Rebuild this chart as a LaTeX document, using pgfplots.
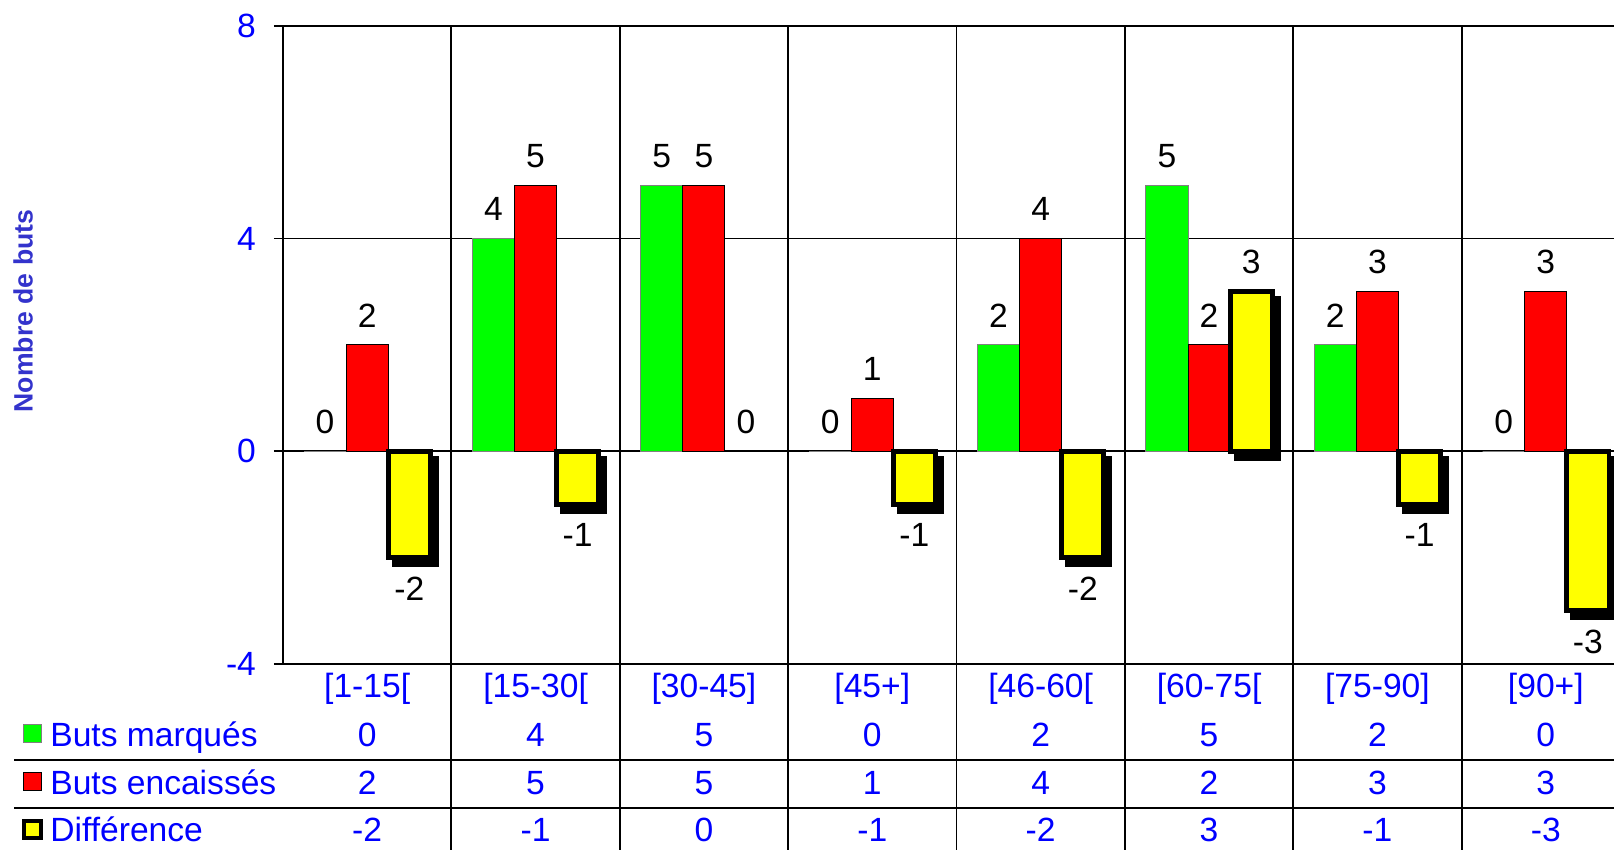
\documentclass[border=0pt]{standalone}
\usepackage{fontspec}
\setmainfont{Liberation Sans}
\usepackage{pgfplots}
\usepackage{pgfplotstable}
\pgfplotsset{compat=1.18}
\usetikzlibrary{shadows}
\definecolor{xlgreen}{RGB}{0,255,0}
\definecolor{xlred}{RGB}{255,0,0}
\definecolor{xlyellow}{RGB}{255,255,0}
\definecolor{xlblue}{RGB}{0,0,255}
\definecolor{titleblue}{RGB}{51,51,204}
\definecolor{xlgray}{RGB}{128,128,128}

\pgfplotstableread{
x marq enc diff
0 0 2 -2
1 4 5 -1
2 5 5 0
3 0 1 -1
4 2 4 -2
5 5 2 3
6 2 3 -1
7 0 3 -3
}\data

\begin{document}
\begin{tikzpicture}[font=\fontsize{16.8pt}{20pt}\selectfont]
\useasboundingbox (-141.5pt,-93pt) rectangle (665.5pt,332pt);
\clip (-141.5pt,-93pt) rectangle (665.5pt,332pt);
\begin{axis}[
  at={(0,0)}, anchor=south west,
  scale only axis, width=673.5pt, height=319.15pt,
  xmin=-0.5, xmax=7.5, ymin=-4, ymax=8,
  xtick={0,...,7},
  xticklabels={{[1-15[},{[15-30[},{[30-45]},{[45+]},{[46-60[},{[60-75[},{[75-90]},{[90+]}},
  xtick align=inside,
  xtick style={draw=none},
  xticklabel style={anchor=center, yshift=-12.25pt, text=xlblue},
  extra x ticks={0.5,1.5,2.5,3.5,4.5,5.5,6.5},
  extra x tick labels={},
  extra x tick style={grid=major, xtick style={draw=none}},
  ytick={-4,0,4,8}, ymajorgrids, ytick pos=left, ytick align=outside,
  major tick length=4.5pt,
  yticklabel style={text=xlblue, xshift=-5.5pt},
  /pgf/number format/assume math mode=true,
  axis line style={black, line width=0.9pt},
  major grid style={black, line width=0.9pt},
  ytick style={black, line width=0.9pt},
  ylabel={Nombre de buts},
  ylabel style={at={(axis description cs:-0.193,0.553)}, anchor=center,
    font=\fontsize{13.3pt}{16pt}\selectfont\bfseries, text=titleblue},
  clip=false,
]
% bars
\addplot[ybar, bar width=0.25, bar shift=-0.25, fill=xlgreen, draw=xlgray, line width=0.5pt]
  table[x=x, y=marq]{\data};
\addplot[ybar, bar width=0.25, bar shift=0, fill=xlred, draw=black, line width=0.5pt]
  table[x=x, y=enc]{\data};
\addplot[ybar, bar width=0.25, bar shift=0.25, fill=xlyellow, draw=black, line width=2.4pt,
  drop shadow={shadow xshift=3pt, shadow yshift=-3.5pt, opacity=1, fill=black},
  y filter/.expression={y==0 ? nan : y}]
  table[x=x, y=diff]{\data};

% value labels
\addplot[draw=none, mark=none, point meta=explicit symbolic, nodes near coords,
  visualization depends on={y \as \rawy},
  every node near coord/.append style={anchor=center, text=black, yshift={(\rawy<0 ? -14.75 : 14.75)}}]
  table[x expr=\thisrow{x}-0.25, y=marq, meta=marq]{\data};
\addplot[draw=none, mark=none, point meta=explicit symbolic, nodes near coords,
  visualization depends on={y \as \rawy},
  every node near coord/.append style={anchor=center, text=black, yshift={(\rawy<0 ? -14.75 : 14.75)}}]
  table[x=x, y=enc, meta=enc]{\data};
\addplot[draw=none, mark=none, point meta=explicit symbolic, nodes near coords,
  visualization depends on={y \as \rawy},
  every node near coord/.append style={anchor=center, text=black, yshift={(\rawy<0 ? -15.5 : 14.75)}}]
  table[x expr=\thisrow{x}+0.25, y=diff, meta=diff]{\data};

% data table rows
\addplot[draw=none, mark=none, point meta=explicit symbolic, nodes near coords,
  every node near coord/.append style={anchor=center, text=xlblue}]
  table[x=x, y expr=-5.33, meta=marq]{\data};
\addplot[draw=none, mark=none, point meta=explicit symbolic, nodes near coords,
  every node near coord/.append style={anchor=center, text=xlblue}]
  table[x=x, y expr=-6.23, meta=enc]{\data};
\addplot[draw=none, mark=none, point meta=explicit symbolic, nodes near coords,
  every node near coord/.append style={anchor=center, text=xlblue}]
  table[x=x, y expr=-7.12, meta=diff]{\data};

% table lines
\draw[black, line width=0.9pt] (axis cs:-2.097,-5.80) -- (axis cs:7.6,-5.80);
\draw[black, line width=0.9pt] (axis cs:-2.097,-6.70) -- (axis cs:7.6,-6.70);
\pgfplotsinvokeforeach{0.5,1.5,2.5,3.5,4.5,5.5,6.5}{
  \draw[black, line width=0.9pt] (axis cs:#1,-4) -- (axis cs:#1,-7.7);
}

% row headers with keys
\node[anchor=base west, inner sep=0, text=xlblue] at (axis cs:-1.884,-5.556) {Buts marqués};
\node[anchor=base west, inner sep=0, text=xlblue] at (axis cs:-1.884,-6.456) {Buts encaissés};
\node[anchor=base west, inner sep=0, text=xlblue] at (axis cs:-1.884,-7.346) {Différence};
\node[draw=xlgray, fill=xlgreen, line width=0.5pt, minimum size=9pt, inner sep=0] at (axis cs:-1.985,-5.31) {};
\node[draw=black, fill=xlred, line width=0.5pt, minimum size=9pt, inner sep=0] at (axis cs:-1.985,-6.21) {};
\node[draw=black, fill=xlyellow, line width=2pt, minimum size=8.5pt, inner sep=0] at (axis cs:-1.985,-7.12) {};
\end{axis}
\end{tikzpicture}
\end{document}
